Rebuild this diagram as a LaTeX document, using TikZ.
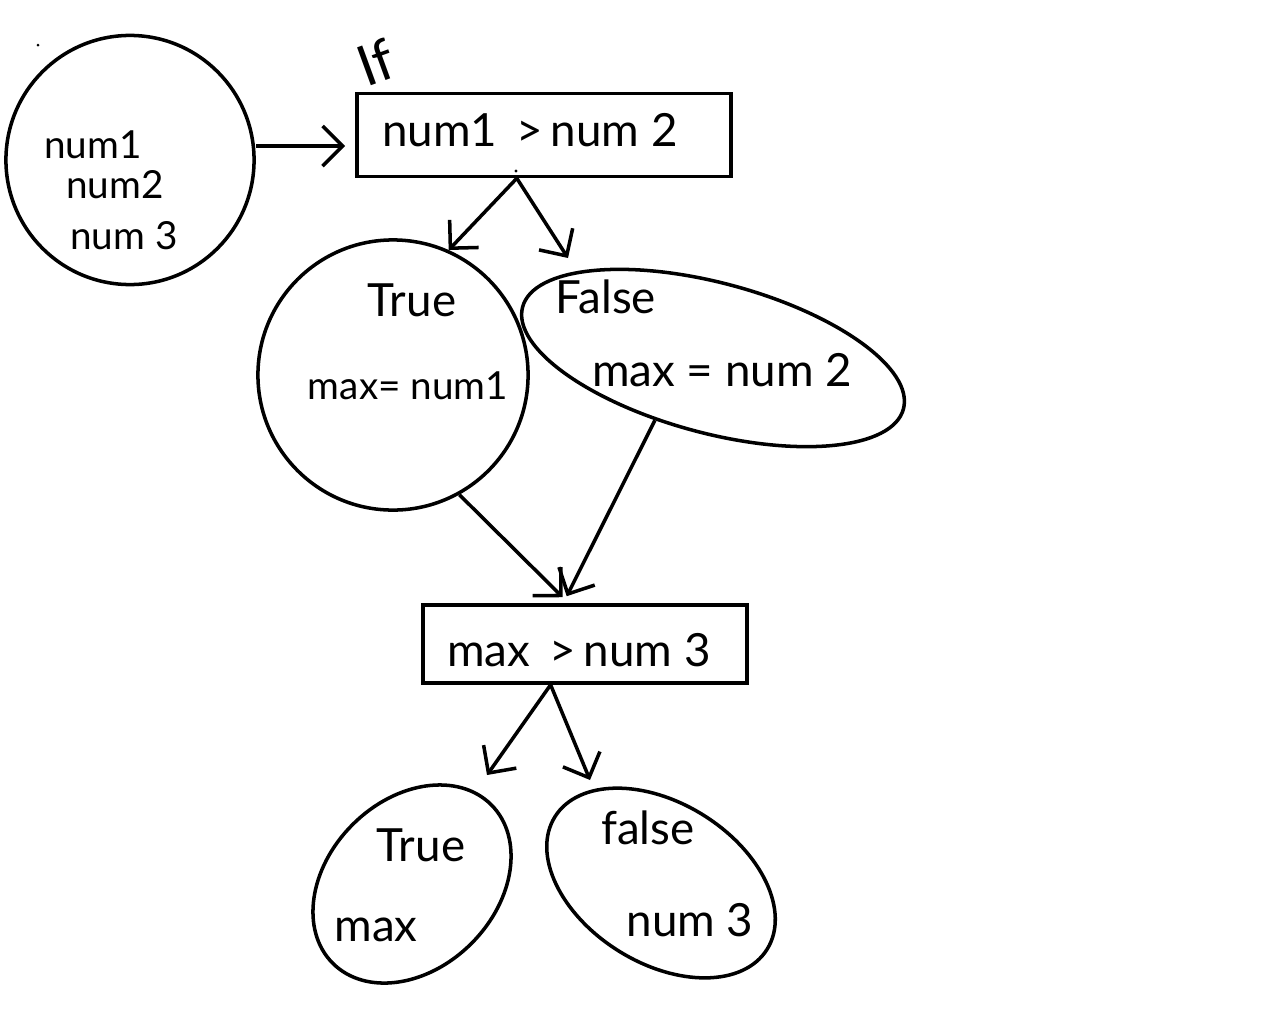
\documentclass[tikz,border=0pt]{standalone}
\usepackage{fontspec}
\setmainfont{Lato}
\usetikzlibrary{arrows.meta,shapes.geometric,calc}
\begin{document}
\begin{tikzpicture}[x=0.01cm,y=-0.01cm,
  line width=1pt,
  ink/.style={draw=black,line width=1pt},
  blob/.style={ink,ellipse,inner sep=0pt},
  boxnode/.style={ink,rectangle,inner sep=0pt},
  lbl/.style={font=\fontsize{13}{15}\selectfont,inner sep=0pt},
  sml/.style={font=\fontsize{11}{13}\selectfont,inner sep=0pt},
  arr/.style={-{Straight Barb[length=2mm,width=4mm]},line width=1pt}]
\useasboundingbox (0,0) rectangle (1280,1018);
% stray dots
\fill (38,45) circle (1.5);
% left circle
\node[blob,minimum width=2.48cm,minimum height=2.49cm] (inp) at (130,160) {};
\node[sml] (t1) at (93,145) {num1};
\node[sml] (t2) at (115,185) {num2};
\node[sml] (t3) at (124,236) {num 3};
% If box
\node[font=\fontsize{16}{18}\selectfont,inner sep=0pt,rotate=20] (ift) at (376,62) {If};
\node[boxnode,minimum width=3.74cm,minimum height=0.83cm] (r1) at (544,135) {};
\node[lbl] (r1t) at (530,130) {num1 \,>\,num 2};
\fill (516,171) circle (1.6);
\coordinate (e0) at (345,146);
\draw[arr] (inp.east |- e0) -- (e0);
% true circle
\node[blob,minimum width=2.7cm,minimum height=2.7cm] (tc) at (393,375) {};
\node[lbl] (tct) at (412,300) {True};
\node[sml] (tcm) at (408,386) {max= num1};
% false ellipse
\node[blob,minimum width=3.94cm,minimum height=1.5cm,rotate=-15] (fe) at (713,358) {};
\node[lbl] (fet) at (606,297) {False};
\node[lbl] (fem) at (722,370) {max = num 2};
% arrows from r1
\coordinate (r1b) at ($(r1.south west)!0.428!(r1.south east)$);
\coordinate (a2e) at (568,258);
\draw[arr] (r1b) -- (tc.66);
\draw[arr] (r1b) -- (a2e);
% second box
\node[boxnode,minimum width=3.24cm,minimum height=0.78cm] (r2) at (585,644) {};
\node[lbl] (r2t) at (579,650) {max \,>\,num 3};
\coordinate (r2top) at ($(r2.north west)!0.432!(r2.north east)$);
\draw[arr] (tc.-61) -- ($(r2top)+(0,-6)$);
\draw[arr] (fe.-118) -- ($(r2top)+(4,-7)$);
% bottom ellipses
\node[blob,minimum width=2.24cm,minimum height=1.68cm,rotate=45] (bt) at (412,884) {};
\node[lbl] (btt) at (421,845) {True};
\node[lbl] (btm) at (376,930) {max};
\node[blob,minimum width=2.5cm,minimum height=1.6cm,rotate=-32] (bf) at (661,883) {};
\node[lbl] (bft) at (648,828) {false};
\node[lbl] (bfm) at (690,920) {num 3};
\coordinate (r2b) at ($(r2.south west)!0.395!(r2.south east)$);
\coordinate (a5e) at (487,775);
\coordinate (a6e) at (590,780);
\draw[arr] (r2b) -- (a5e);
\draw[arr] (r2b) -- (a6e);
\end{tikzpicture}
\end{document}
